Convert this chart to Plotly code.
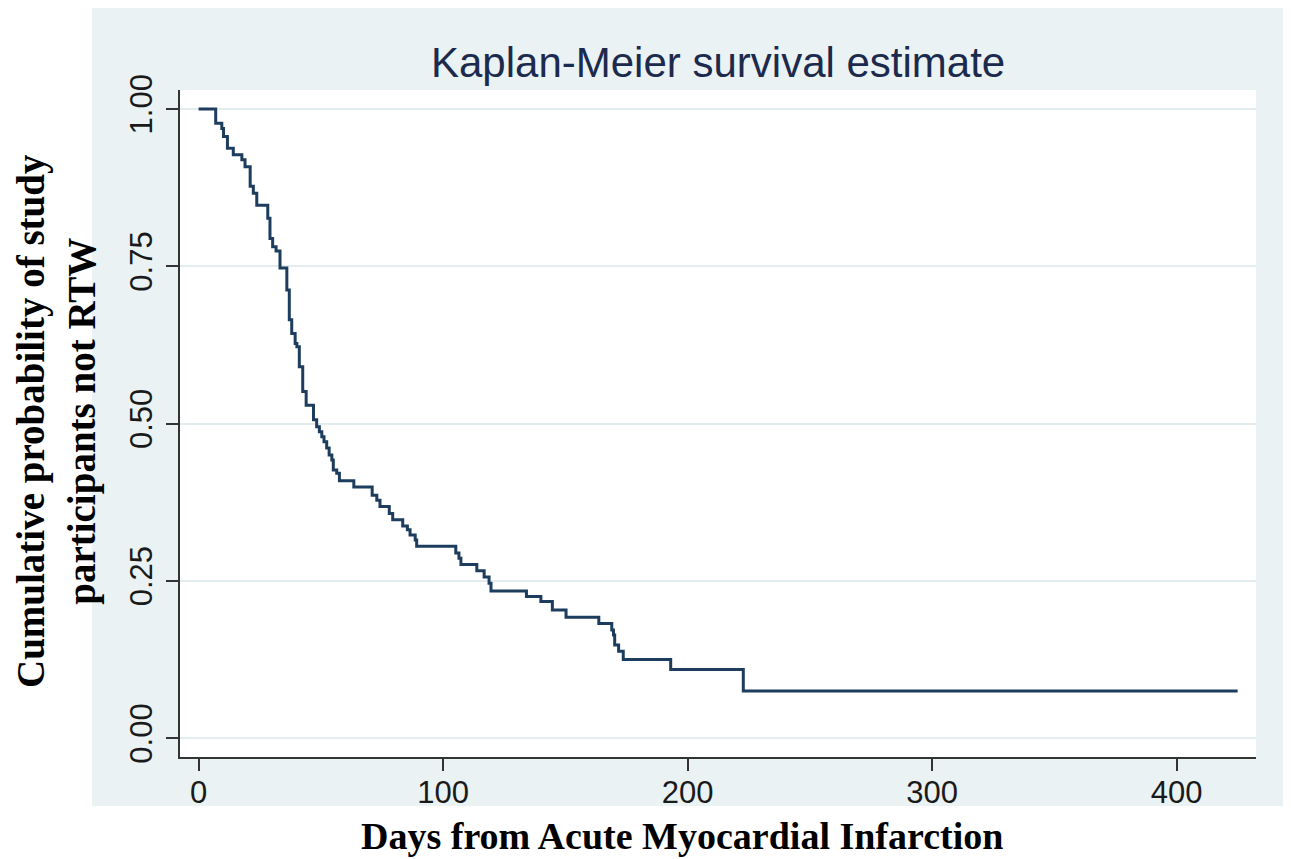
import plotly.graph_objects as go

# Kaplan-Meier step points: day of event and survival after the event
days = [0, 7.0, 9.5, 10.2, 11.8, 14.2, 17.7, 19.0, 21.1, 22.4, 23.8, 28.3, 29.2, 30.3,
        31.7, 33.3, 36.1, 37.1, 38.1, 39.5, 40.2, 41.2, 42.6, 44.0, 47.0, 48.3, 49.4,
        50.4, 51.3, 52.4, 53.4, 54.5, 55.1, 56.5, 57.6, 63.5, 71.0, 72.9, 74.2, 78.0,
        79.4, 83.5, 85.4, 86.5, 88.6, 89.2, 105.2, 106.5, 107.3, 113.8, 116.8, 118.8,
        119.6, 134.1, 140.0, 144.7, 150.3, 163.7, 169.0, 169.7, 170.2, 171.8, 173.7,
        193.1, 222.8, 425.0]
survival = [1.0, 0.977, 0.969, 0.956, 0.9375, 0.927, 0.919, 0.908, 0.877, 0.866, 0.847,
            0.826, 0.794, 0.781, 0.774, 0.747, 0.712, 0.665, 0.643, 0.627, 0.622, 0.590,
            0.551, 0.529, 0.506, 0.495, 0.487, 0.479, 0.471, 0.461, 0.450, 0.442, 0.426,
            0.421, 0.409, 0.399, 0.386, 0.378, 0.368, 0.357, 0.347, 0.337, 0.331, 0.323,
            0.315, 0.305, 0.294, 0.286, 0.276, 0.266, 0.256, 0.246, 0.234, 0.225, 0.217,
            0.2035, 0.192, 0.182, 0.172, 0.164, 0.148, 0.138, 0.125, 0.109, 0.075, 0.075]

x_ticks = [0, 100, 200, 300, 400]
y_ticks = [0, 0.25, 0.5, 0.75, 1.0]
y_tick_labels = ["0.00", "0.25", "0.50", "0.75", "1.00"]

title_text = "Kaplan-Meier survival estimate"
x_title = "Days from Acute Myocardial Infarction"
y_title = "Cumulative probability of study<br>participants not RTW"

PANEL = "#eaf2f3"
LINE = "#1d3d5f"
SANS = "Arial, Liberation Sans, sans-serif"
SERIF = "Times New Roman, Liberation Serif, serif"

# page has an 8px body margin: work in page pixels, shift into figure pixels
OFF = 8
W, H = 1291, 859
PL, PR, PT, PB = 180, 1256, 90, 757  # plot area in page pixels
L, T = PL - OFF, PT - OFF
R, B = W - (PR - OFF), H - (PB - OFF)
pw, ph = PR - PL, PB - PT

def px_x(p):
    return (p - PL) / pw

def px_y(p):
    return (PB - p) / ph

fig = go.Figure()
fig.add_trace(go.Scatter(x=days, y=survival, mode="lines", line_shape="hv",
                         line=dict(color=LINE, width=3), showlegend=False,
                         hoverinfo="skip"))

fig.update_layout(
    width=W, height=H, autosize=False,
    margin=dict(l=L, r=R, t=T, b=B, pad=0),
    paper_bgcolor="white", plot_bgcolor="white",
    shapes=[
        dict(type="rect", xref="paper", yref="paper", layer="below",
             x0=px_x(92), x1=px_x(1287), y0=px_y(806), y1=px_y(7),
             fillcolor=PANEL, line=dict(width=0)),
        dict(type="rect", xref="paper", yref="paper", layer="below",
             x0=0, x1=1, y0=0, y1=1, fillcolor="white", line=dict(width=0)),
    ],
    xaxis=dict(range=[-7.6, 432.5], tickmode="array", tickvals=x_ticks,
               ticktext=[str(v) for v in x_ticks],
               showgrid=False, zeroline=False, showline=True, linecolor="#333333",
               linewidth=1.5, ticks="outside", ticklen=12, tickwidth=1.5,
               tickcolor="#333333", tickfont=dict(family=SANS, size=31, color="#1a1a1a"),
               ticklabelstandoff=-5),
    yaxis=dict(range=[-0.030, 1.030], tickmode="array", tickvals=y_ticks,
               ticktext=y_tick_labels, tickangle=-90,
               showgrid=True, gridcolor="#e3ecef", gridwidth=1.5,
               zeroline=False, showline=True, linecolor="#333333", linewidth=1.5,
               ticks="outside", ticklen=12, tickwidth=1.5, tickcolor="#333333",
               tickfont=dict(family=SANS, size=31, color="#1a1a1a"),
               ticklabelstandoff=2),
    annotations=[
        dict(text=title_text, xref="paper", yref="paper", x=px_x(718), y=px_y(62),
             xanchor="center", yanchor="middle", showarrow=False,
             font=dict(family=SANS, size=42, color="#1c2a4d")),
        dict(text=x_title, xref="paper", yref="paper", x=px_x(682), y=px_y(836),
             xanchor="center", yanchor="middle", showarrow=False,
             font=dict(family=SERIF, size=38, color="black", weight="bold")),
        dict(text=y_title, xref="paper", yref="paper", x=px_x(56), y=px_y(421),
             xanchor="center", yanchor="middle", showarrow=False, textangle=-90,
             font=dict(family=SERIF, size=39, color="black", weight="bold")),
    ],
)

fig.write_html("out.html")
